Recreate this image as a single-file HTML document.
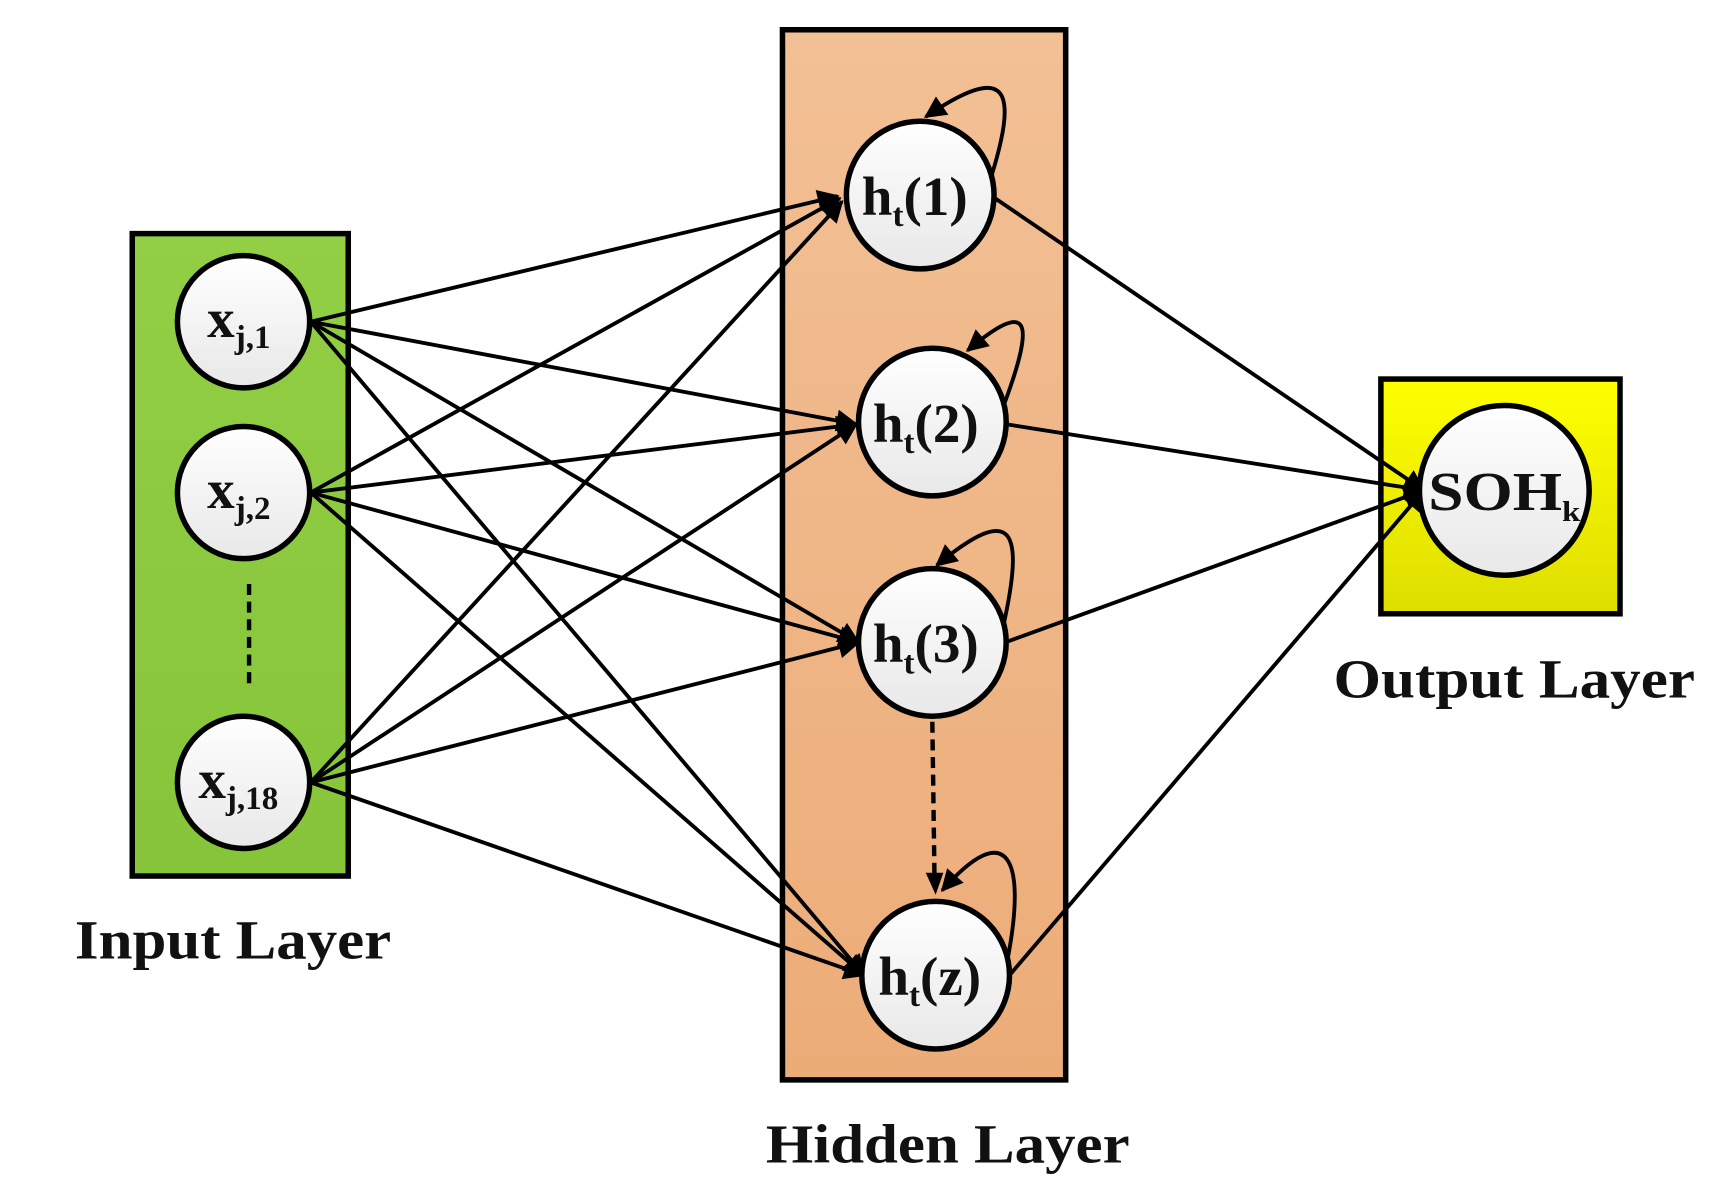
<!DOCTYPE html>
<html><head><meta charset="utf-8"><style>
html,body{margin:0;padding:0;background:#fff;}
svg{display:block;}
text{font-family:"Liberation Serif",serif;font-weight:bold;fill:#111;}
</style></head><body>
<svg width="1717" height="1200" viewBox="0 0 1558 1089" preserveAspectRatio="none" xmlns="http://www.w3.org/2000/svg">
<defs>
<linearGradient id="g" x1="0" y1="0" x2="0" y2="1"><stop offset="0" stop-color="#92cf45"/><stop offset="1" stop-color="#86c43a"/></linearGradient>
<linearGradient id="o" x1="0" y1="0" x2="0" y2="1"><stop offset="0" stop-color="#f2c095"/><stop offset="1" stop-color="#ecac78"/></linearGradient>
<linearGradient id="y" x1="0" y1="0" x2="0" y2="1"><stop offset="0" stop-color="#ffff00"/><stop offset="1" stop-color="#dede00"/></linearGradient>
<linearGradient id="c" x1="0" y1="0" x2="0" y2="1"><stop offset="0" stop-color="#ffffff"/><stop offset="1" stop-color="#e8e8e8"/></linearGradient>
<marker id="b" viewBox="0 0 10 10" refX="9" refY="5" markerWidth="24" markerHeight="20" markerUnits="userSpaceOnUse" orient="auto"><path d="M0,0 L10,5 L0,10 z" fill="#000"/></marker>
</defs>
<rect x="120" y="212" width="196" height="583" fill="url(#g)" stroke="#000" stroke-width="5"/>
<rect x="710" y="27" width="257" height="953" fill="url(#o)" stroke="#000" stroke-width="5"/>
<rect x="1253" y="344" width="217" height="213" fill="url(#y)" stroke="#000" stroke-width="5"/>
<g stroke="#000" stroke-width="3.5" fill="none" marker-end="url(#b)">
<line x1="282" y1="292" x2="760" y2="178"/>
<line x1="282" y1="292" x2="777" y2="385"/>
<line x1="282" y1="292" x2="779" y2="583"/>
<line x1="282" y1="292" x2="784" y2="885"/>
<line x1="282" y1="447" x2="762" y2="180"/>
<line x1="282" y1="447" x2="777" y2="385"/>
<line x1="282" y1="447" x2="779" y2="583"/>
<line x1="282" y1="447" x2="784" y2="885"/>
<line x1="282" y1="710" x2="764" y2="183"/>
<line x1="282" y1="710" x2="777" y2="385"/>
<line x1="282" y1="710" x2="779" y2="583"/>
<line x1="282" y1="710" x2="784" y2="885"/>
<line x1="903" y1="180" x2="1292" y2="445"/>
<line x1="913" y1="385" x2="1292" y2="445"/>
<line x1="912" y1="583" x2="1292" y2="445"/>
<line x1="916" y1="885" x2="1292" y2="445"/>
<path d="M898 165 C925 80, 915 55, 840 106"/>
<path d="M910 370 C940 290, 935 270, 878 318"/>
<path d="M910 570 C930 480, 920 455, 850 513"/>
<path d="M914 872 C932 780, 915 740, 855 808"/>
</g>
<line x1="226" y1="530" x2="226" y2="625" stroke="#000" stroke-width="4" stroke-dasharray="10,6"/>
<line x1="846" y1="655" x2="848" y2="800" stroke="#000" stroke-width="4" stroke-dasharray="10,6"/>
<path d="M840 792 L856 792 L849 812 z" fill="#000"/>
<g stroke="#000" stroke-width="5" fill="url(#c)">
<circle cx="221" cy="292" r="60"/>
<circle cx="221" cy="447" r="60"/>
<circle cx="221" cy="710" r="60"/>
<circle cx="835" cy="177" r="67"/>
<circle cx="846" cy="383" r="67"/>
<circle cx="846" cy="583" r="67"/>
<circle cx="849" cy="885" r="67"/>
<circle cx="1365" cy="445" r="77"/>
</g>
<g font-size="50">
<text x="188" y="306">x<tspan font-size="30" dy="10">j,1</tspan></text>
<text x="188" y="461">x<tspan font-size="30" dy="10">j,2</tspan></text>
<text x="180" y="724">x<tspan font-size="30" dy="10">j,18</tspan></text>
<text x="782" y="195">h<tspan font-size="30" dy="10">t</tspan><tspan dy="-10">(1)</tspan></text>
<text x="792" y="401">h<tspan font-size="30" dy="10">t</tspan><tspan dy="-10">(2)</tspan></text>
<text x="792" y="601">h<tspan font-size="30" dy="10">t</tspan><tspan dy="-10">(3)</tspan></text>
<text x="797" y="903">h<tspan font-size="30" dy="10">t</tspan><tspan dy="-10">(z)</tspan></text>
<text x="1296" y="463" textLength="138" lengthAdjust="spacingAndGlyphs">SOH<tspan font-size="26" dy="10">k</tspan></text>
<text x="68" y="870" font-size="50" textLength="287" lengthAdjust="spacingAndGlyphs">Input Layer</text>
<text x="695" y="1055" font-size="50" textLength="330" lengthAdjust="spacingAndGlyphs">Hidden Layer</text>
<text x="1210" y="633" font-size="50" textLength="328" lengthAdjust="spacingAndGlyphs">Output Layer</text>
</g>
</svg>
</body></html>
